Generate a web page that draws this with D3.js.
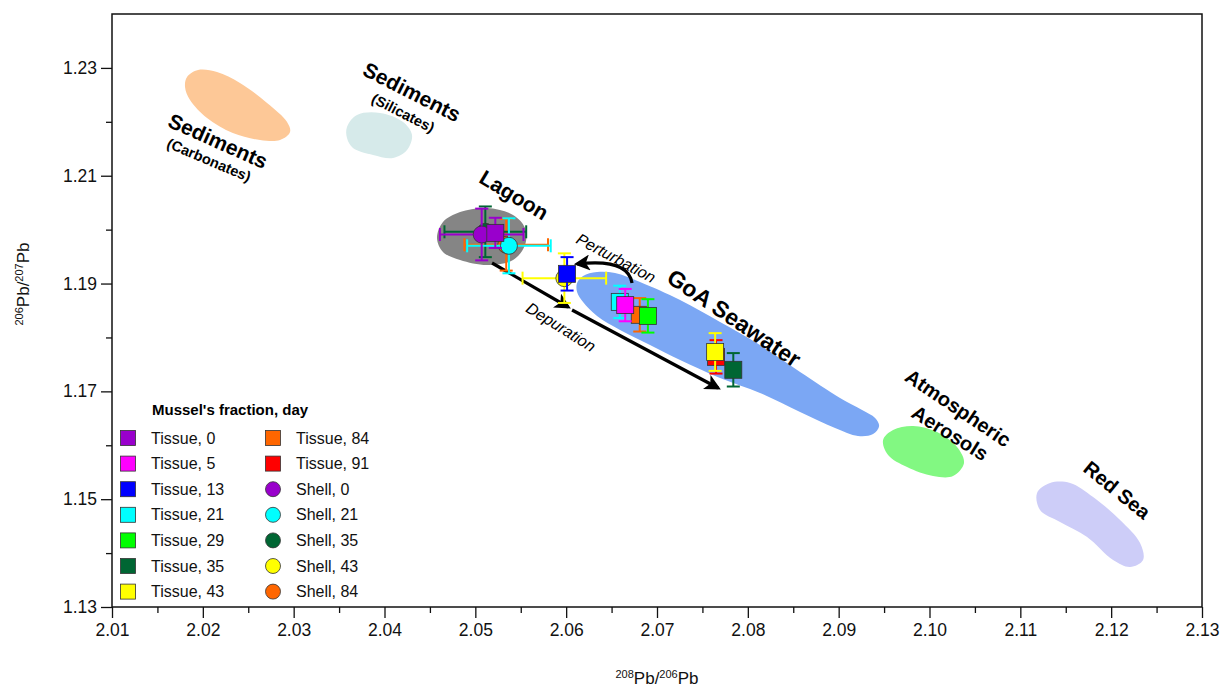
<!DOCTYPE html>
<html><head><meta charset="utf-8">
<script src="https://cdn.jsdelivr.net/npm/d3@7"></script>
<style>
html,body{margin:0;padding:0;background:#fff;}
svg{display:block;font-family:"Liberation Sans",Arial,sans-serif;}
</style></head>
<body><svg id="c" width="1231" height="688"></svg>
<script>
// ---- Data ----
const xTicks = [2.01,2.02,2.03,2.04,2.05,2.06,2.07,2.08,2.09,2.10,2.11,2.12,2.13];
const yTicks = [1.13,1.15,1.17,1.19,1.21,1.23];
const xMinor = [2.015,2.025,2.035,2.045,2.055,2.065,2.075,2.085,2.095,2.105,2.115,2.125];
const yMinor = [1.14,1.16,1.18,1.20,1.22];

const tissueDays = [0,5,13,21,29,35,43,84,91];
const tissueX    = [2.0522,2.0665,2.0601,2.0659,2.0690,2.0784,2.0764,2.0681,2.0765];
const tissueY    = [1.1994,1.1860,1.1918,1.1866,1.1840,1.1740,1.1773,1.1842,1.1764];
const tissueXErr = [0.0006,0.0006,0.0006,0.0006,0.0006,0.0006,0.0006,0.0006,0.0006];
const tissueYErr = [0.0028,0.0030,0.0031,0.0030,0.0031,0.0031,0.0035,0.0031,0.0031];
const tissueColors = ["#9900cc","#ff00ff","#0000ff","#00ffff","#00ff00","#006633","#ffff00","#ff6600","#ff0000"];

const shellDays = [0,21,35,43,84];
const shellX    = [2.0507,2.0537,2.0511,2.0598,2.0534];
const shellY    = [1.1991,1.1970,1.1996,1.1910,1.1972];
const shellXErr = [0.0046,0.0046,0.0045,0.0046,0.0046];
const shellYErr = [0.0048,0.0051,0.0047,0.0046,0.0048];
const shellColors = ["#9900cc","#00ffff","#006633","#ffff00","#ff6600"];

// source fields (outline points in data units)
const carbonatesX = [2.01826,2.01947,2.02156,2.02409,2.02707,2.02927,2.0296,2.0285,2.0263,2.0233,2.02046,2.01859,2.01804];
const carbonatesY = [1.22831,1.22961,1.22924,1.2272,1.22349,1.21996,1.21811,1.21663,1.21663,1.21792,1.22071,1.22405,1.22646];
const silicatesX = [2.03587,2.03697,2.03951,2.04204,2.04303,2.04248,2.04094,2.03874,2.03653,2.03587];
const silicatesY = [1.21904,1.22127,1.22164,1.21997,1.21756,1.21477,1.21329,1.21385,1.21514,1.217];
const lagoonX = [2.04578,2.04644,2.04832,2.05129,2.05415,2.05547,2.05547,2.05415,2.05129,2.04832,2.04644];
const lagoonY = [1.19845,1.20142,1.20327,1.20401,1.20272,1.2003,1.19715,1.19437,1.19344,1.19437,1.19585];
const goaX = [2.0612,2.06186,2.0634,2.06538,2.06813,2.07254,2.07694,2.08134,2.08575,2.09015,2.09258,2.09401,2.09445,2.09379,2.09213,2.0896,2.08575,2.08134,2.07694,2.07254,2.06923,2.06593,2.0634,2.06186,2.0612];
const goaY = [1.1901,1.1914,1.19214,1.19196,1.19029,1.18695,1.18287,1.1786,1.17359,1.16877,1.16654,1.16506,1.16358,1.16209,1.16172,1.1632,1.16617,1.1697,1.17248,1.17582,1.1786,1.18138,1.18398,1.18658,1.18843];
const aerosolX = [2.09489,2.09599,2.09819,2.10083,2.10303,2.1038,2.10259,2.10039,2.09753,2.09544];
const aerosolY = [1.16098,1.16283,1.16358,1.16246,1.15968,1.15671,1.1543,1.1543,1.15597,1.1582];
const redSeaX = [2.11184,2.11327,2.11548,2.11801,2.12098,2.12318,2.12351,2.12208,2.12021,2.11735,2.11437,2.11217];
const redSeaY = [1.15115,1.153,1.153,1.1504,1.14614,1.14187,1.13872,1.13742,1.13872,1.14299,1.14577,1.14799];

// ---- Setup ----
const svg = d3.select("#c");
const x = d3.scaleLinear().domain([2.01,2.13]).range([112,1202]);
const y = d3.scaleLinear().domain([1.13,1.24]).range([607,14]);

const zip = (a,b)=>a.map((v,i)=>[v,b[i]]);
const blob = d3.line().x(d=>x(d[0])).y(d=>y(d[1])).curve(d3.curveCatmullRomClosed.alpha(0.5));
const fields = [
  {pts:zip(carbonatesX,carbonatesY), fill:"#fdc897"},
  {pts:zip(silicatesX,silicatesY), fill:"#d6eaea"},
  {pts:zip(lagoonX,lagoonY), fill:"#858585"},
  {pts:zip(goaX,goaY), fill:"#7ba7f4"},
  {pts:zip(aerosolX,aerosolY), fill:"#82f882"},
  {pts:zip(redSeaX,redSeaY), fill:"#cdcdf8"}
];
svg.append("g").selectAll("path").data(fields).join("path")
  .attr("d",d=>blob(d.pts)).attr("fill",d=>d.fill).attr("stroke","none");

// ---- Axes ----
const fmt = d3.format(".2f");
const gx = svg.append("g").attr("transform","translate(0,607)")
  .call(d3.axisBottom(x).tickValues(xTicks).tickSize(11).tickPadding(6).tickFormat(fmt));
const gxm = svg.append("g").attr("transform","translate(0,607)")
  .call(d3.axisBottom(x).tickValues(xMinor).tickSize(6).tickFormat(""));
const gy = svg.append("g").attr("transform","translate(112,0)")
  .call(d3.axisLeft(y).tickValues(yTicks).tickSize(11).tickPadding(4).tickFormat(fmt));
const gym = svg.append("g").attr("transform","translate(112,0)")
  .call(d3.axisLeft(y).tickValues(yMinor).tickSize(6).tickFormat(""));
[gx,gxm,gy,gym].forEach(g=>{
  g.select(".domain").remove();
  g.selectAll("line").attr("stroke","#111").attr("stroke-width",1.3);
  g.selectAll("text").attr("font-size",17.5).attr("fill","#111")
   .attr("font-family","'Liberation Sans',Arial,sans-serif");
});
svg.append("rect").attr("x",112).attr("y",14).attr("width",1090).attr("height",593)
  .attr("fill","none").attr("stroke","#111").attr("stroke-width",1.5);

// axis titles
function isoTitle(g, parts){
  const t = g.append("text").attr("font-size",17).attr("fill","#111").attr("text-anchor","middle");
  parts.forEach(p=>{
    if(p.sup){ t.append("tspan").attr("font-size",11).attr("dy",-6).text(p.s); }
    else { t.append("tspan").attr("dy",p.after?6:0).text(p.s); }
  });
  return t;
}
isoTitle(svg.append("g").attr("transform","translate(657,684)"),
  [{s:"208",sup:true},{s:"Pb/",after:true},{s:"206",sup:true},{s:"Pb",after:true}]);
isoTitle(svg.append("g").attr("transform","translate(29,284) rotate(-90)"),
  [{s:"206",sup:true},{s:"Pb/",after:true},{s:"207",sup:true},{s:"Pb",after:true}]);

// ---- Field labels ----
const labels = [
  {t:"Sediments", x:2.02167, y:1.21644, r:24, s:21, w:"bold"},
  {t:"(Carbonates)", x:2.02068, y:1.21292, r:23, s:14.5, w:"bold"},
  {t:"Sediments", x:2.04303, y:1.22553, r:27, s:21, w:"bold"},
  {t:"(Silicates)", x:2.04204, y:1.22164, r:27, s:14.5, w:"bold"},
  {t:"Lagoon", x:2.05426, y:1.20643, r:31, s:21, w:"bold"},
  {t:"GoA Seawater", x:2.07848, y:1.18361, r:34, s:23, w:"bold"},
  {t:"Atmospheric", x:2.10315, y:1.16691, r:34, s:20, w:"bold"},
  {t:"Aerosols", x:2.10226, y:1.16228, r:32, s:20, w:"bold"},
  {t:"Red Sea", x:2.12065, y:1.15170, r:39, s:20, w:"bold"},
  {t:"Perturbation", x:2.06549, y:1.19474, r:28, s:16, w:"normal", i:true},
  {t:"Depuration", x:2.05943, y:1.18194, r:32, s:16, w:"normal", i:true}
];
svg.append("g").selectAll("text").data(labels).join("text")
  .attr("transform",d=>`translate(${x(d.x)},${y(d.y)}) rotate(${d.r})`)
  .attr("text-anchor","middle").attr("dy","0.35em")
  .attr("font-size",d=>d.s).attr("font-weight",d=>d.w)
  .attr("font-style",d=>d.i?"italic":"normal")
  .attr("font-family","Arial,'Liberation Sans',sans-serif")
  .attr("fill","#000").text(d=>d.t);

// ---- Arrows ----
const defs = svg.append("defs");
defs.append("marker").attr("id","ah").attr("viewBox","0 0 10 10").attr("refX",8).attr("refY",5)
  .attr("markerWidth",5).attr("markerHeight",5).attr("orient","auto-start-reverse")
  .append("path").attr("d","M0,0 L10,5 L0,10 L2.5,5 Z").attr("fill","#000");
const arrowX = [[2.05184,2.06021],[2.06065,2.07672]];
const arrowY = [[1.19381,1.18565],[1.18509,1.17062]];
arrowX.forEach((ax,i)=>{
  svg.append("line").attr("x1",x(ax[0])).attr("y1",y(arrowY[i][0]))
    .attr("x2",x(ax[1])).attr("y2",y(arrowY[i][1]))
    .attr("stroke","#000").attr("stroke-width",3.2).attr("marker-end","url(#ah)");
});
const pertX = [2.06725,2.06681,2.0612];
const pertY = [1.1901,1.19474,1.19363];
svg.append("path")
  .attr("d",`M${x(pertX[0])},${y(pertY[0])} Q${x(pertX[1])},${y(pertY[1])} ${x(pertX[2])},${y(pertY[2])}`)
  .attr("fill","none").attr("stroke","#000").attr("stroke-width",3.2).attr("marker-end","url(#ah)");

// ---- Points with error bars ----
const pts = [];
tissueDays.forEach((d,i)=>pts.push({shape:"sq",x:tissueX[i],y:tissueY[i],ex:tissueXErr[i],ey:tissueYErr[i],c:tissueColors[i]}));
shellDays.forEach((d,i)=>pts.push({shape:"ci",x:shellX[i],y:shellY[i],ex:shellXErr[i],ey:shellYErr[i],c:shellColors[i]}));
const cap = 6.5;
const gp = svg.append("g");
pts.slice().reverse().forEach(p=>{
  const g = gp.append("g");
  const cx = x(p.x), cy = y(p.y);
  const x0 = x(p.x-p.ex), x1 = x(p.x+p.ex), y0 = y(p.y-p.ey), y1 = y(p.y+p.ey);
  const segs = [[x0,cy,x1,cy],[x0,cy-cap,x0,cy+cap],[x1,cy-cap,x1,cy+cap],
                [cx,y0,cx,y1],[cx-cap,y0,cx+cap,y0],[cx-cap,y1,cx+cap,y1]];
  segs.forEach(s=>g.append("line").attr("x1",s[0]).attr("y1",s[1]).attr("x2",s[2]).attr("y2",s[3])
    .attr("stroke",p.c).attr("stroke-width",2));
  if(p.shape==="sq"){
    g.append("rect").attr("x",cx-8.5).attr("y",cy-8.5).attr("width",17).attr("height",17)
      .attr("fill",p.c).attr("stroke","#333").attr("stroke-width",0.8);
  } else {
    g.append("circle").attr("cx",cx).attr("cy",cy).attr("r",8.5)
      .attr("fill",p.c).attr("stroke","#333").attr("stroke-width",0.8);
  }
});

// ---- Legend ----
const lg = svg.append("g").attr("font-family","Arial,'Liberation Sans',sans-serif");
lg.append("text").attr("x",152).attr("y",415).attr("font-size",15).attr("font-weight","bold")
  .text("Mussel's fraction, day");
const legendItems = [];
tissueDays.forEach((d,i)=>legendItems.push({shape:"sq",c:tissueColors[i],t:`Tissue, ${d}`}));
shellDays.forEach((d,i)=>legendItems.push({shape:"ci",c:shellColors[i],t:`Shell, ${d}`}));
legendItems.forEach((it,i)=>{
  const col = i<7?0:1, row = i<7?i:i-7;
  const mx = col===0?128:273, ty = 438 + row*25.6;
  if(it.shape==="sq"){
    lg.append("rect").attr("x",mx-7.5).attr("y",ty-7.5).attr("width",15).attr("height",15)
      .attr("fill",it.c).attr("stroke","#333").attr("stroke-width",0.8);
  } else {
    lg.append("circle").attr("cx",mx).attr("cy",ty).attr("r",7.5)
      .attr("fill",it.c).attr("stroke","#333").attr("stroke-width",0.8);
  }
  lg.append("text").attr("x",mx+23).attr("y",ty).attr("dy","0.35em").attr("font-size",16)
    .attr("fill","#111").text(it.t);
});
</script></body></html>
